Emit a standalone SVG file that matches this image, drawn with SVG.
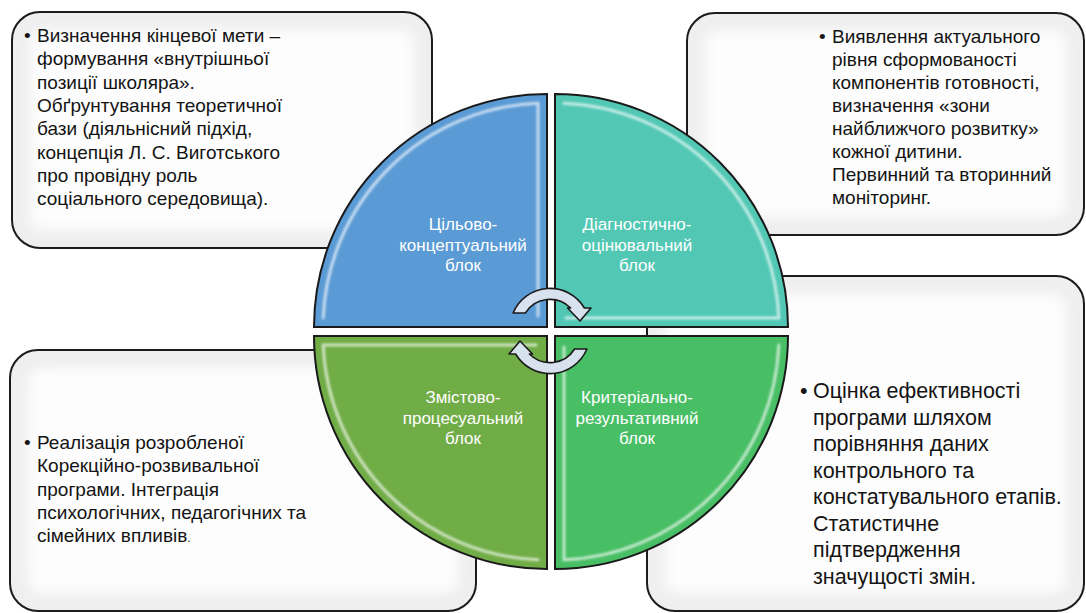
<svg xmlns="http://www.w3.org/2000/svg" width="1086" height="613" viewBox="0 0 1086 613">
<defs>
<style>
.box{fill:#efefef}
.boxin{fill:#fdfdfd;filter:url(#soft)}
.boxline{fill:none;stroke:#1c1c1c;stroke-width:2}
.t{font-family:"Liberation Sans",Arial,sans-serif;font-size:19px;fill:#141414}
.tb{font-size:21.5px}
.q{stroke:#1a1a1a;stroke-width:2}
.hl{fill:none;stroke:#ffffff;stroke-opacity:.65;stroke-width:3;stroke-linecap:round;filter:url(#glow)}
.dk{fill:none;stroke:#000000;stroke-opacity:.12;stroke-width:4;filter:url(#glow)}
.ql{font-family:"Liberation Sans",Arial,sans-serif;font-size:17px;fill:#ffffff;text-anchor:middle}
.arr{fill:#d8e1ee;stroke:#1a1a1a;stroke-width:1.6;stroke-linejoin:round}
</style>
<filter id="soft" x="-10%" y="-10%" width="120%" height="120%"><feGaussianBlur stdDeviation="6"/></filter>
<filter id="glow" x="-10%" y="-10%" width="120%" height="120%"><feGaussianBlur stdDeviation="1"/></filter>
</defs>

<g id="box-top-left">
<rect class="box" x="12" y="12" width="420" height="236" rx="28"/>
<rect class="boxin" x="30" y="30" width="384" height="200" rx="14"/>
<rect class="boxline" x="12" y="12" width="420" height="236" rx="28"/>
<text class="t" x="24" y="42">•</text>
<text class="t">
<tspan x="37" y="42">Визначення кінцевої мети –</tspan>
<tspan x="37" y="65.3">формування «внутрішньої</tspan>
<tspan x="37" y="88.6">позиції школяра».</tspan>
<tspan x="37" y="111.9">Обґрунтування теоретичної</tspan>
<tspan x="37" y="135.2">бази (діяльнісний підхід,</tspan>
<tspan x="37" y="158.5">концепція Л. С. Виготського</tspan>
<tspan x="37" y="181.8">про провідну роль</tspan>
<tspan x="37" y="205.1">соціального середовища).</tspan>
</text>
</g>

<g id="box-top-right">
<rect class="box" x="687" y="13" width="397" height="222" rx="28"/>
<rect class="boxin" x="705" y="31" width="361" height="186" rx="14"/>
<rect class="boxline" x="687" y="13" width="397" height="222" rx="28"/>
<text class="t" x="819" y="43">•</text>
<text class="t">
<tspan x="832" y="43">Виявлення актуального</tspan>
<tspan x="832" y="66">рівня сформованості</tspan>
<tspan x="832" y="89">компонентів готовності,</tspan>
<tspan x="832" y="112">визначення «зони</tspan>
<tspan x="832" y="135">найближчого розвитку»</tspan>
<tspan x="832" y="158">кожної дитини.</tspan>
<tspan x="832" y="181">Первинний та вторинний</tspan>
<tspan x="832" y="204">моніторинг.</tspan>
</text>
</g>

<g id="box-bottom-left">
<rect class="box" x="10" y="350" width="466" height="261" rx="28"/>
<rect class="boxin" x="28" y="368" width="430" height="225" rx="14"/>
<rect class="boxline" x="10" y="350" width="466" height="261" rx="28"/>
<text class="t" x="24" y="449">•</text>
<text class="t">
<tspan x="37" y="449">Реалізація розробленої</tspan>
<tspan x="37" y="472.3">Корекційно-розвивальної</tspan>
<tspan x="37" y="495.6">програми. Інтеграція</tspan>
<tspan x="37" y="518.9">психологічних, педагогічних та</tspan>
<tspan x="37" y="542.2">сімейних впливів<tspan font-size="12">.</tspan></tspan>
</text>
</g>

<g id="box-bottom-right">
<rect class="box" x="647" y="276" width="437" height="335" rx="28"/>
<rect class="boxin" x="665" y="294" width="401" height="299" rx="14"/>
<rect class="boxline" x="647" y="276" width="437" height="335" rx="28"/>
<text class="t tb" x="800" y="398">•</text>
<text class="t tb">
<tspan x="813" y="398">Оцінка ефективності</tspan>
<tspan x="813" y="424.5">програми шляхом</tspan>
<tspan x="813" y="451">порівняння даних</tspan>
<tspan x="813" y="477.5">контрольного та</tspan>
<tspan x="813" y="504">констатувального етапів.</tspan>
<tspan x="813" y="530.5">Статистичне</tspan>
<tspan x="813" y="557">підтвердження</tspan>
<tspan x="813" y="583.5">значущості змін.</tspan>
</text>
</g>

<g id="quadrant-goal">
<path class="q" fill="#5b9bd5" d="M547 327 L314 327 A233 233 0 0 1 547 94 Z"/>
<path class="dk" d="M540 323 L318 323"/>
<path class="hl" d="M323.2 318 A224 224 0 0 1 538 103.2 L538 316"/>
<text class="ql"><tspan x="463" y="230">Цільово-</tspan><tspan x="463" y="250.5">концептуальний</tspan><tspan x="463" y="271">блок</tspan></text>
</g>

<g id="quadrant-diagnostic">
<path class="q" fill="#52c8b4" d="M555 327 L555 94 A233 233 0 0 1 788 327 Z"/>
<path class="dk" d="M559 100 L559 323"/>
<path class="hl" d="M564 103.2 A224 224 0 0 1 778.8 318 L566 318"/>
<text class="ql"><tspan x="637" y="230">Діагностично-</tspan><tspan x="637" y="250.5">оцінювальний</tspan><tspan x="637" y="271">блок</tspan></text>
</g>

<g id="quadrant-content">
<path class="q" fill="#71ad47" d="M547 336 L547 569 A233 233 0 0 1 314 336 Z"/>
<path class="dk" d="M543 340 L543 563"/>
<path class="hl" d="M536 345 L323.2 345 A224 224 0 0 0 538 559.8"/>
<text class="ql"><tspan x="463" y="403">Змістово-</tspan><tspan x="463" y="423.5">процесуальний</tspan><tspan x="463" y="444">блок</tspan></text>
</g>

<g id="quadrant-criteria">
<path class="q" fill="#48be65" d="M555 336 L788 336 A233 233 0 0 1 555 569 Z"/>
<path class="dk" d="M559 340 L782 340"/>
<path class="hl" d="M564 347 L564 559.8 A224 224 0 0 0 778.8 345"/>
<text class="ql"><tspan x="637" y="403">Критеріально-</tspan><tspan x="637" y="423.5">результативний</tspan><tspan x="637" y="444">блок</tspan></text>
</g>

<g id="connectors">
<path class="arr" d="M513.1 313 A40 40 0 0 1 584.4 308 L591 308 L580 321 L567.5 308 L570.6 308 A29 29 0 0 0 525.4 313 Z"/>
<path class="arr" transform="rotate(180 550 331)" d="M513.1 313 A40 40 0 0 1 584.4 308 L591 308 L580 321 L567.5 308 L570.6 308 A29 29 0 0 0 525.4 313 Z"/>
</g>
</svg>
